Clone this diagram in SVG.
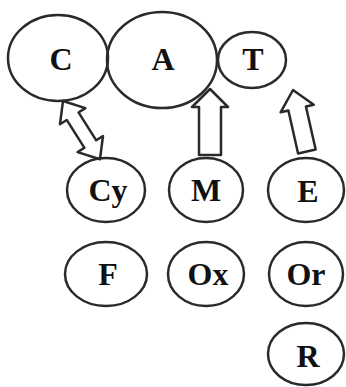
<svg xmlns="http://www.w3.org/2000/svg" width="346" height="387" viewBox="0 0 346 387">
<style>
.n ellipse{fill:none;stroke:#2a2a2a;stroke-width:2.5}
.n text{font-family:"Liberation Serif","Times New Roman",serif;font-weight:bold;font-size:32px;fill:#111;text-anchor:middle}
.c polygon{fill:#fff;stroke:#2a2a2a;stroke-width:2.5;stroke-linejoin:round}
</style>
<rect width="346" height="387" fill="#fff"/>
<g class="c" id="connectors">
<polygon transform="translate(63,101) rotate(-32.4)" points="0,0 15,18 7,18 7,51 15,51 0,69 -15,51 -7,51 -7,18 -15,18"/>
<polygon transform="translate(210,89)" points="0,0 18,18 11,18 11,66 -11,66 -11,18 -18,18"/>
<polygon transform="translate(293,90) rotate(-12.7)" points="0,0 17,19 9,19 9,63 -9,63 -9,19 -17,19"/>
</g>
<g class="n" id="node-C"><ellipse cx="58" cy="58" rx="50" ry="43"/><text x="61" y="70">C</text></g>
<g class="n" id="node-A"><ellipse cx="162" cy="60" rx="55" ry="48"/><text x="163" y="70">A</text></g>
<g class="n" id="node-T"><ellipse cx="252" cy="60" rx="34" ry="28"/><text x="253" y="70">T</text></g>
<g class="n" id="node-Cy"><ellipse cx="106" cy="190" rx="39" ry="32"/><text x="108" y="201">Cy</text></g>
<g class="n" id="node-M"><ellipse cx="206" cy="190" rx="37" ry="32"/><text x="206" y="201">M</text></g>
<g class="n" id="node-E"><ellipse cx="306" cy="190" rx="38" ry="32"/><text x="308" y="202">E</text></g>
<g class="n" id="node-F"><ellipse cx="106" cy="274" rx="41" ry="32"/><text x="108" y="285">F</text></g>
<g class="n" id="node-Ox"><ellipse cx="206" cy="274" rx="38" ry="32"/><text x="208" y="285">Ox</text></g>
<g class="n" id="node-Or"><ellipse cx="306" cy="274" rx="37" ry="32"/><text x="306" y="285">Or</text></g>
<g class="n" id="node-R"><ellipse cx="306" cy="354" rx="38" ry="31"/><text x="308" y="367">R</text></g>
</svg>
